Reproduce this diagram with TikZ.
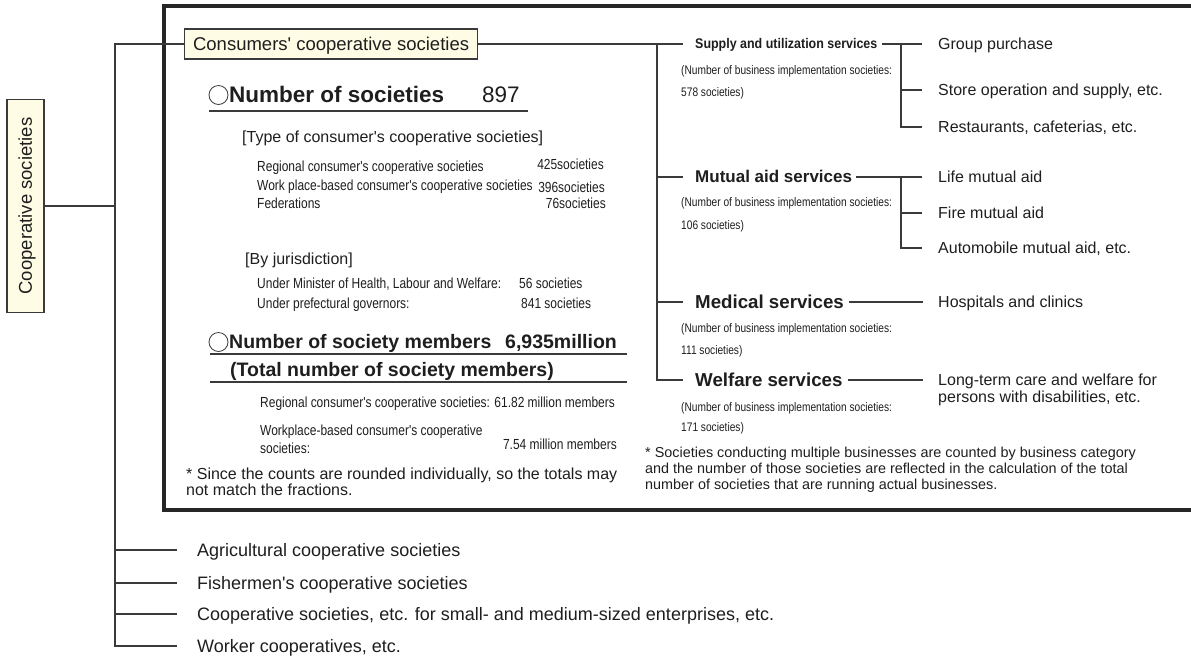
\documentclass[tikz,border=0pt]{standalone}
\usepackage{fontspec}
\newfontfamily\ar{Liberation Sans}
\newfontfamily\arn[FakeStretch=0.82]{Liberation Sans}
\newfontfamily\ars[FakeStretch=0.89]{Liberation Sans}
\newcommand\myfz[1]{\fontsize{#1}{#1}\selectfont}
\definecolor{lc}{HTML}{3A3A3A}
\definecolor{tc}{HTML}{1E1E1E}
\definecolor{cream}{HTML}{FFFCE6}
\definecolor{bc}{HTML}{262626}
\tikzset{
 ln/.style={draw=lc, line width=1.2pt},
 t/.style={anchor=west, inner sep=0pt, text=tc},
 te/.style={anchor=east, inner sep=0pt, text=tc},
 fA/.style={font=\ar\bfseries\myfz{22.5}, text height=18pt, text depth=2.25pt},
 fAr/.style={font=\ar\myfz{22.5}, text height=18pt, text depth=2.25pt},
 fB/.style={font=\ar\bfseries\myfz{19.5}, text height=15.6pt, text depth=1.95pt},
 fC/.style={font=\ar\myfz{18.5}, text height=14.8pt, text depth=1.85pt},
 fD/.style={font=\ar\myfz{18}, text height=14.4pt, text depth=1.8pt},
 fE/.style={font=\ar\myfz{16}, text height=12.8pt, text depth=1.6pt},
 fF/.style={font=\ar\myfz{14.4}, text height=11.5pt, text depth=1.44pt},
 fN/.style={font=\arn\myfz{14.6}, text height=11.7pt, text depth=1.46pt},
 fS/.style={font=\arn\myfz{12.4}, text height=9.9pt, text depth=1.24pt},
 fH/.style={font=\ar\bfseries\myfz{18.7}, text height=15pt, text depth=1.87pt},
 fM/.style={font=\ar\bfseries\myfz{17}, text height=13.6pt, text depth=1.7pt},
 fU/.style={font=\ars\bfseries\myfz{14}, text height=11.2pt, text depth=1.4pt},
 boxy/.style={draw=lc, line width=1.2pt, fill=cream, text=tc},
 ring/.style={circle, draw=lc, line width=0.8pt, minimum size=19pt, inner sep=0pt},
}
\begin{document}
\begin{tikzpicture}[x=1pt,y=-1pt]
\useasboundingbox (0,0) rectangle (1191,657);
% big frame
\draw[line width=3.5pt, draw=bc] (1205,6) -- (164,6) -- (164,510) -- (1205,510);

% left tree
\node[boxy, fC, rotate=90, minimum width=213pt, minimum height=37pt, inner sep=0pt] (coop) at (25.5,206) {Cooperative societies};
\node[boxy, fC, anchor=west, minimum height=30pt, inner xsep=8.5pt, inner ysep=0pt] (cons) at (184,44) {Consumers' cooperative societies};
\coordinate (jt) at (115,44);
\coordinate (jm) at (115,206);
\coordinate (jw) at (115,646);
\node[t, fD] (agr) at (197,550) {Agricultural cooperative societies};
\node[t, fD] (fish) at (197,583) {Fishermen's cooperative societies};
\node[t, fD] (sme) at (197,614) {Cooperative societies, etc. for small- and medium-sized enterprises, etc.};
\node[t, fD] (work) at (197,646) {Worker cooperatives, etc.};
\draw[ln] (coop.south) -- (jm);
\draw[ln] (cons.west) -- (jt) -- (jw) -- ([xshift=-20pt]work.west);
\draw[ln] (agr.west -| jt) -- ([xshift=-20pt]agr.west);
\draw[ln] (fish.west -| jt) -- ([xshift=-20pt]fish.west);
\draw[ln] (sme.west -| jt) -- ([xshift=-20pt]sme.west);

% left column inside frame
\node[ring] (c1) at (218.5,95) {};
\node[t, fA] (nos) at (229,95) {Number of societies};
\node[t, fAr] (n897) at (482,95) {897};
\draw[ln] (209,111) -- (528,111);
\node[t, fE] (type) at (242,137) {[Type of consumer's cooperative societies]};
\node[t, fN] (r1) at (257,166) {Regional consumer's cooperative societies};
\node[te, fN] (v1) at (604,164) {425societies};
\node[t, fN] (r2) at (257,185) {Work place-based consumer's cooperative societies};
\node[te, fN] (v2) at (605,187) {396societies};
\node[t, fN] (r3) at (257,203) {Federations};
\node[te, fN] (v3) at (606,203) {76societies};
\node[t, fE] (jur) at (245,259) {[By jurisdiction]};
\node[t, fN] (j1) at (257,283) {Under Minister of Health, Labour and Welfare:};
\node[t, fN] (jv1) at (519,283) {56 societies};
\node[t, fN] (j2) at (257,303) {Under prefectural governors:};
\node[t, fN] (jv2) at (521,303) {841 societies};
\node[ring] (c2) at (218.5,342) {};
\node[t, fB] (mem) at (229,342) {Number of society members};
\node[t, fB] (memv) at (505,342) {6,935million};
\draw[ln] (210,354) -- (627,354);
\node[t, fB] (tot) at (230,370) {(Total number of society members)};
\draw[ln] (210,382) -- (627,382);
\node[t, fN] (m1) at (260,402) {Regional consumer's cooperative societies: 61.82 million members};
\node[t, fN] (m2) at (260,430) {Workplace-based consumer's cooperative};
\node[t, fN] (m3) at (260,448) {societies:};
\node[te, fN] (m4) at (617,444) {7.54 million members};
\node[t, fE] (ln1) at (186,474) {* Since the counts are rounded individually, so the totals may};
\node[t, fE] (ln2) at (186,490) {not match the fractions.};

% services
\coordinate (jv1c) at (657,44);
\coordinate (jv2c) at (657,177);
\coordinate (jv3c) at (657,302);
\coordinate (jv4c) at (657,380);
\node[t, fU] (sup) at (695,44) {Supply and utilization services};
\node[t, fS] (supn1) at (681,70) {(Number of business implementation societies:};
\node[t, fS] (supn2) at (681,92) {578 societies)};
\node[t, fM] (mut) at (695,177) {Mutual aid services};
\node[t, fS] (mutn1) at (681,202) {(Number of business implementation societies:};
\node[t, fS] (mutn2) at (681,225) {106 societies)};
\node[t, fH] (med) at (695,302) {Medical services};
\node[t, fS] (medn1) at (681,328) {(Number of business implementation societies:};
\node[t, fS] (medn2) at (681,350) {111 societies)};
\node[t, fH] (welf) at (695,380) {Welfare services};
\node[t, fS] (welfn1) at (681,407) {(Number of business implementation societies:};
\node[t, fS] (welfn2) at (681,427) {171 societies)};

\draw[ln] (cons.east) -- (jv1c) -- (jv4c) -- ([xshift=-12pt]welf.west);
\draw[ln] (jv1c) -- ([xshift=-12pt]sup.west);
\draw[ln] (jv2c) -- ([xshift=-12pt]mut.west);
\draw[ln] (jv3c) -- ([xshift=-12pt]med.west);

% sub items
\node[t, fE] (gp) at (938,44) {Group purchase};
\node[t, fE] (store) at (938,90) {Store operation and supply, etc.};
\node[t, fE] (rest) at (938,127) {Restaurants, cafeterias, etc.};
\node[t, fE] (life) at (938,177) {Life mutual aid};
\node[t, fE] (fire) at (938,213) {Fire mutual aid};
\node[t, fE] (auto) at (938,248) {Automobile mutual aid, etc.};
\node[t, fE] (hosp) at (938,302) {Hospitals and clinics};
\node[t, fE] (lt1) at (938,380) {Long-term care and welfare for};
\node[t, fE] (lt2) at (938,397) {persons with disabilities, etc.};
\coordinate (s1) at (901,44);
\coordinate (s2) at (901,177);
\draw[ln] ([xshift=4pt]sup.east) -- ([xshift=-16pt]gp.west);
\draw[ln] (s1) |- ([xshift=-16pt]rest.west);
\draw[ln] (store.west -| s1) -- ([xshift=-16pt]store.west);
\draw[ln] ([xshift=4pt]mut.east) -- ([xshift=-16pt]life.west);
\draw[ln] (s2) |- ([xshift=-16pt]auto.west);
\draw[ln] (fire.west -| s2) -- ([xshift=-16pt]fire.west);
\draw[ln] ([xshift=5pt]med.east) -- ([xshift=-15pt]hosp.west);
\draw[ln] ([xshift=5pt]welf.east) -- ([xshift=-15pt]lt1.west);

% right note
\node[t, fF] (rn1) at (645,452) {* Societies conducting multiple businesses are counted by business category};
\node[t, fF] (rn2) at (645,468) {and the number of those societies are reflected in the calculation of the total};
\node[t, fF] (rn3) at (645,484) {number of societies that are running actual businesses.};
\end{tikzpicture}
\end{document}
